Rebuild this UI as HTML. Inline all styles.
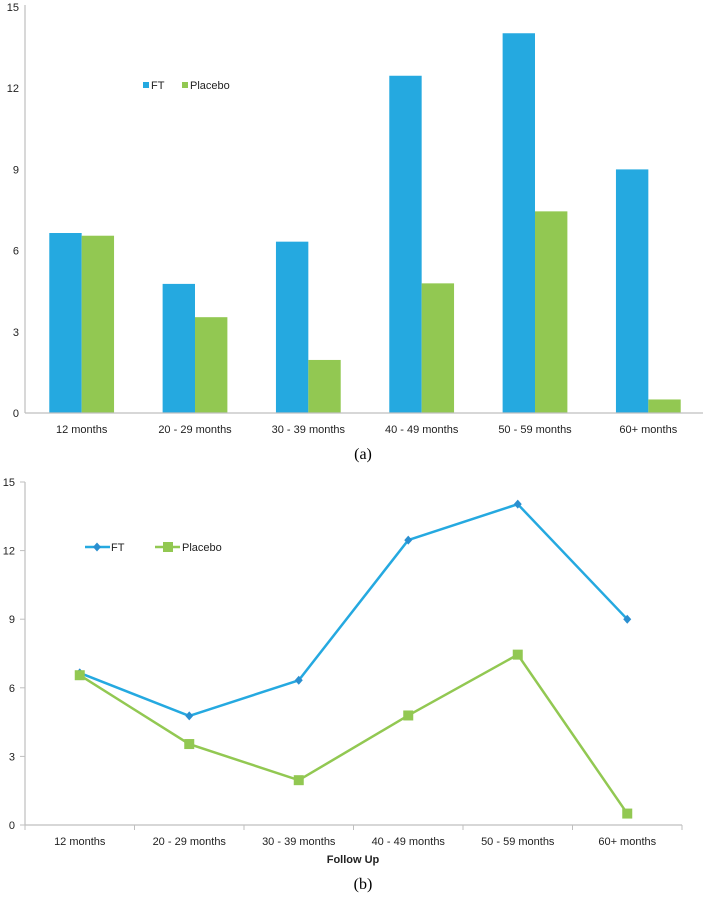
<!DOCTYPE html>
<html><head><meta charset="utf-8"><style>
html,body{margin:0;padding:0;background:#fff;}
svg{display:block;font-family:"Liberation Sans",sans-serif;}
</style></head><body>
<svg id="chart" width="703" height="904" viewBox="0 0 703 904" xmlns="http://www.w3.org/2000/svg"></svg>
<script>
const categories = ["12 months","20 - 29 months","30 - 39 months","40 - 49 months","50 - 59 months","60+ months"];
const ftValues = [6.65, 4.77, 6.33, 12.46, 14.03, 9.0];
const placeboValues = [6.55, 3.54, 1.96, 4.79, 7.45, 0.5];
const yTicks = [0, 3, 6, 9, 12, 15];
const seriesNames = ["FT", "Placebo"];

const NS = "http://www.w3.org/2000/svg";
const svg = document.getElementById("chart");
const BLUE = "#25a9e0", GREEN = "#92c852", AXIS = "#bfbfbf";
function mk(tag, attrs, parent) {
  const e = document.createElementNS(NS, tag);
  for (const k in attrs) e.setAttribute(k, attrs[k]);
  (parent || svg).appendChild(e);
  return e;
}

// ---------- Chart (a): bars ----------
const gA = mk("g", {});


const ax = { x0: 25, x1: 705, y0: 413, yTop: 7, max: 15 };
const yA = v => ax.y0 - (v / ax.max) * (ax.y0 - ax.yTop);
const catW_A = (ax.x1 - ax.x0) / categories.length;
const barW = catW_A / 3.5;
const xA = i => ax.x0 + catW_A * (i + 0.5);

yTicks.forEach(t => {
  const tx = mk("text", { x: 19, y: yA(t) + 4, "text-anchor": "end", "font-size": 11, fill: "#222" }, gA);
  tx.textContent = t;
  
  
});
categories.forEach((c, i) => {
  const f = mk("rect", { x: xA(i) - barW, y: yA(ftValues[i]), width: barW, height: ax.y0 - yA(ftValues[i]), fill: BLUE }, gA);
  
  
  const p = mk("rect", { x: xA(i), y: yA(placeboValues[i]), width: barW, height: ax.y0 - yA(placeboValues[i]), fill: GREEN }, gA);
  
  
  const lbl = mk("text", { x: xA(i), y: 433, "text-anchor": "middle", "font-size": 11, fill: "#222" }, gA);
  lbl.textContent = c;
  
  
});
const yaxA = mk("line", { x1: ax.x0, y1: 5, x2: ax.x0, y2: ax.y0, stroke: AXIS, "stroke-width": 1.2 }, gA);


const xaxA = mk("line", { x1: ax.x0, y1: ax.y0, x2: 703, y2: ax.y0, stroke: AXIS, "stroke-width": 1.2 }, gA);


// legend a
const legA = mk("g", {}, gA);


[[143, BLUE, 0], [182, GREEN, 1]].forEach(([x, col, k]) => {
  const s = mk("rect", { x: x, y: 82, width: 6, height: 6, fill: col }, legA);
  
  
  const t = mk("text", { x: x + 8, y: 89, "font-size": 11, fill: "#222" }, legA);
  t.textContent = seriesNames[k];
  
  
});
const capA = mk("text", { x: 363, y: 459, "text-anchor": "middle", "font-size": 16, "font-family": "Liberation Serif, serif", fill: "#000" });
capA.textContent = "(a)";



// ---------- Chart (b): lines ----------
const gB = mk("g", {});


const bx = { x0: 25, x1: 682, y0: 825, yTop: 482, max: 15 };
const yB = v => bx.y0 - (v / bx.max) * (bx.y0 - bx.yTop);
const catW_B = (bx.x1 - bx.x0) / categories.length;
const xB = i => bx.x0 + catW_B * (i + 0.5);

yTicks.forEach(t => {
  const tx = mk("text", { x: 15, y: yB(t) + 4, "text-anchor": "end", "font-size": 11, fill: "#222" }, gB);
  tx.textContent = t;
  
  
  const tk = mk("line", { x1: 20, y1: yB(t), x2: 25, y2: yB(t), stroke: AXIS }, gB);
  
  
});
const yaxB = mk("line", { x1: bx.x0, y1: bx.yTop, x2: bx.x0, y2: bx.y0, stroke: AXIS, "stroke-width": 1.2 }, gB);


const xaxB = mk("line", { x1: bx.x0, y1: bx.y0, x2: bx.x1, y2: bx.y0, stroke: AXIS, "stroke-width": 1.2 }, gB);


for (let i = 0; i <= categories.length; i++) {
  const tk = mk("line", { x1: bx.x0 + catW_B * i, y1: bx.y0, x2: bx.x0 + catW_B * i, y2: bx.y0 + 5, stroke: AXIS }, gB);
  
  
}
categories.forEach((c, i) => {
  const lbl = mk("text", { x: xB(i), y: 845, "text-anchor": "middle", "font-size": 11, fill: "#222" }, gB);
  lbl.textContent = c;
  
  
});
const xt = mk("text", { x: 353, y: 863, "text-anchor": "middle", "font-size": 11, "font-weight": "bold", fill: "#222" }, gB);
xt.textContent = "Follow Up";



const ftLine = mk("polyline", { points: ftValues.map((v, i) => xB(i) + "," + yB(v)).join(" "), fill: "none", stroke: BLUE, "stroke-width": 2.5 }, gB);


const plLine = mk("polyline", { points: placeboValues.map((v, i) => xB(i) + "," + yB(v)).join(" "), fill: "none", stroke: GREEN, "stroke-width": 2.5 }, gB);


function diamond(cx, cy, parent) {
  return mk("polygon", { points: `${cx},${cy-4.5} ${cx+4},${cy} ${cx},${cy+4.5} ${cx-4},${cy}`, fill: "#2a8fd0" }, parent);
}
ftValues.forEach((v, i) => {
  const d = diamond(xB(i), yB(v), gB);
  
  
});
placeboValues.forEach((v, i) => {
  const s = mk("rect", { x: xB(i) - 5, y: yB(v) - 5, width: 10, height: 10, fill: GREEN }, gB);
  
  
});
// legend b
const legB = mk("g", {}, gB);


const l1 = mk("line", { x1: 85, y1: 547, x2: 110, y2: 547, stroke: BLUE, "stroke-width": 2.5 }, legB);


const d1 = diamond(97, 547, legB);


const t1 = mk("text", { x: 111, y: 551, "font-size": 11, fill: "#222" }, legB);
t1.textContent = seriesNames[0];


const l2 = mk("line", { x1: 155, y1: 547, x2: 180, y2: 547, stroke: GREEN, "stroke-width": 2.5 }, legB);


const s2 = mk("rect", { x: 163, y: 542, width: 10, height: 10, fill: GREEN }, legB);


const t2 = mk("text", { x: 182, y: 551, "font-size": 11, fill: "#222" }, legB);
t2.textContent = seriesNames[1];



const capB = mk("text", { x: 363, y: 889, "text-anchor": "middle", "font-size": 16, "font-family": "Liberation Serif, serif", fill: "#000" });
capB.textContent = "(b)";


</script>
</body></html>
